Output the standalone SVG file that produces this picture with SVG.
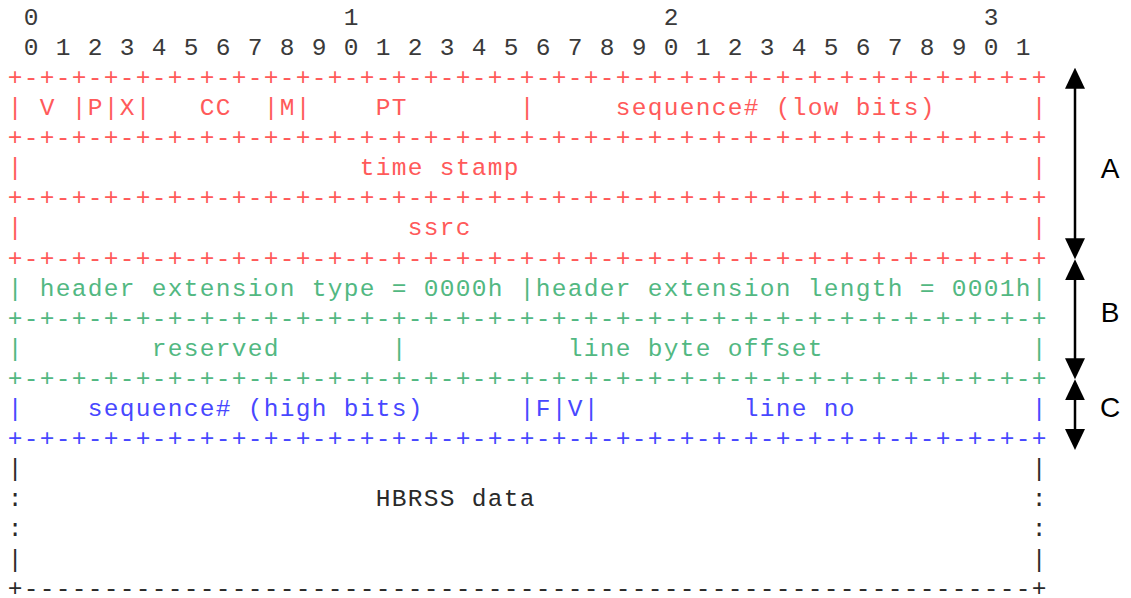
<svg xmlns="http://www.w3.org/2000/svg" width="1131" height="598" viewBox="0 0 1131 598" xml:space="preserve">
<defs>
<style>
  text.m { font-family: "Liberation Mono", "Courier New", monospace; font-size: 24.5px; letter-spacing: 1.3px; white-space: pre; }
  .ruler { fill: #3a3a3a; }
  .a { fill: #ff5a5a; }
  .b { fill: #52b882; }
  .c { fill: #4848ff; }
  .p { fill: #2a2a2a; }
  .lbl { font-family: "Liberation Sans", Arial, sans-serif; font-size: 28px; fill: #000000; text-anchor: middle; }
  .conn { stroke: #000000; stroke-width: 2.5; fill: none; marker-start: url(#arr); marker-end: url(#arr); }
</style>
<marker id="arr" viewBox="0 0 21 20" markerUnits="userSpaceOnUse" markerWidth="21" markerHeight="20" refX="11" refY="10" orient="auto-start-reverse">
  <path d="M0,0 L21,10 L0,20 z" fill="#000000"/>
</marker>
</defs>
<rect width="1131" height="598" fill="#ffffff"/>
<g id="ruler">
<text class="m ruler" x="7.7" y="24.7"> 0                   1                   2                   3</text>
<text class="m ruler" x="7.7" y="54.8"> 0 1 2 3 4 5 6 7 8 9 0 1 2 3 4 5 6 7 8 9 0 1 2 3 4 5 6 7 8 9 0 1</text>
</g>
<g id="section-a">
<text class="m a" x="7.7" y="84.9">+-+-+-+-+-+-+-+-+-+-+-+-+-+-+-+-+-+-+-+-+-+-+-+-+-+-+-+-+-+-+-+-+</text>
<text class="m a" x="7.7" y="115">| V |P|X|   CC  |M|    PT       |     sequence# (low bits)      |</text>
<text class="m a" x="7.7" y="145.1">+-+-+-+-+-+-+-+-+-+-+-+-+-+-+-+-+-+-+-+-+-+-+-+-+-+-+-+-+-+-+-+-+</text>
<text class="m a" x="7.7" y="175.2">|                     time stamp                                |</text>
<text class="m a" x="7.7" y="205.3">+-+-+-+-+-+-+-+-+-+-+-+-+-+-+-+-+-+-+-+-+-+-+-+-+-+-+-+-+-+-+-+-+</text>
<text class="m a" x="7.7" y="235.4">|                        ssrc                                   |</text>
<text class="m a" x="7.7" y="265.5">+-+-+-+-+-+-+-+-+-+-+-+-+-+-+-+-+-+-+-+-+-+-+-+-+-+-+-+-+-+-+-+-+</text>
</g>
<g id="section-b">
<text class="m b" x="7.7" y="295.6">| header extension type = 0000h |header extension length = 0001h|</text>
<text class="m b" x="7.7" y="325.7">+-+-+-+-+-+-+-+-+-+-+-+-+-+-+-+-+-+-+-+-+-+-+-+-+-+-+-+-+-+-+-+-+</text>
<text class="m b" x="7.7" y="355.8">|        reserved       |          line byte offset             |</text>
<text class="m b" x="7.7" y="385.9">+-+-+-+-+-+-+-+-+-+-+-+-+-+-+-+-+-+-+-+-+-+-+-+-+-+-+-+-+-+-+-+-+</text>
</g>
<g id="section-c">
<text class="m c" x="7.7" y="416">|    sequence# (high bits)      |F|V|         line no           |</text>
<text class="m c" x="7.7" y="446.1">+-+-+-+-+-+-+-+-+-+-+-+-+-+-+-+-+-+-+-+-+-+-+-+-+-+-+-+-+-+-+-+-+</text>
</g>
<g id="payload">
<text class="m p" x="7.7" y="476.2">|                                                               |</text>
<text class="m p" x="7.7" y="506.3">:                      HBRSS data                               :</text>
<text class="m p" x="7.7" y="536.4">:                                                               :</text>
<text class="m p" x="7.7" y="566.5">|                                                               |</text>
<text class="m p" x="7.7" y="596">+---------------------------------------------------------------+</text>
</g>
<g id="connectors">
<line class="conn" x1="1075" y1="77.7" x2="1075" y2="249.3"/>
<line class="conn" x1="1075" y1="269.3" x2="1075" y2="369.3"/>
<line class="conn" x1="1075" y1="389.3" x2="1075" y2="440"/>
</g>
<g id="label-a"><text class="lbl" x="1110" y="178">A</text></g>
<g id="label-b"><text class="lbl" x="1110" y="321.5">B</text></g>
<g id="label-c"><text class="lbl" x="1110" y="417">C</text></g>
</svg>
